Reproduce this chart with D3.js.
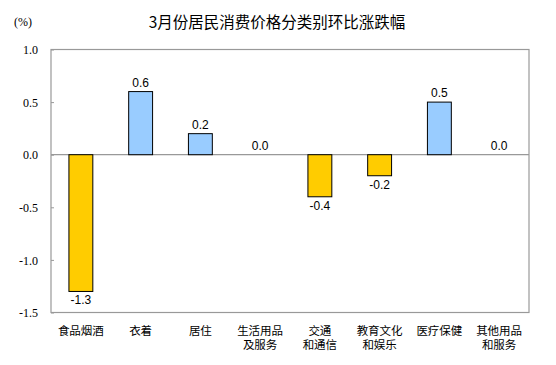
<!DOCTYPE html>
<html><head><meta charset="utf-8">
<script src="https://cdn.jsdelivr.net/npm/d3@7"></script>
<style>body{margin:0;background:#fff;}svg{display:block;}</style>
</head><body>
<script>
const categories = [["食品烟酒"],["衣着"],["居住"],["生活用品","及服务"],["交通","和通信"],["教育文化","和娱乐"],["医疗保健"],["其他用品","和服务"]];
const values = [-1.3, 0.6, 0.2, 0.0, -0.4, -0.2, 0.5, 0.0];
const yTicks = [1.0, 0.5, 0.0, -0.5, -1.0, -1.5];
const title = "3月份居民消费价格分类别环比涨跌幅";

const W = 556, H = 365;
const m = {l: 51, r: 27, t: 49.5, b: 52.5};
const svg = d3.select("body").append("svg").attr("width", W).attr("height", H);
const x = d3.scaleBand().domain(d3.range(categories.length)).range([m.l, W - m.r]).paddingInner(0.6).paddingOuter(0.3);
const y = d3.scaleLinear().domain([-1.5, 1.0]).range([H - m.b, m.t]);

svg.append("text").attr("x", 277).attr("y", 28).attr("text-anchor", "middle")
  .attr("font-family", "Noto Sans CJK SC").attr("font-size", 15.5).attr("fill", "#000").text(title);
svg.append("text").attr("x", 14).attr("y", 26).attr("font-family", "Liberation Serif").attr("font-size", 12).text("(%)");

// axis
const ax = svg.append("g").attr("transform", `translate(${m.l},0)`)
  .call(d3.axisRight(y).tickValues(yTicks).tickSize(3).tickFormat(d3.format(".1f")));
ax.select(".domain").remove();
ax.selectAll("line").attr("stroke", "#999");
ax.selectAll("text").attr("x", -13).attr("text-anchor", "end").attr("font-family", "Liberation Serif").attr("font-size", 12).attr("fill", "#000").attr("dy", "0.35em")
  .text(d => d3.format(".1f")(d).replace("−", "-"));

// zero line
svg.append("line").attr("x1", m.l).attr("x2", W - m.r).attr("y1", y(0)).attr("y2", y(0)).attr("stroke", "#999").attr("stroke-width", 1.2);

// bars
svg.selectAll("rect.bar").data(values).join("rect").attr("class", "bar")
  .attr("x", (d, i) => x(i)).attr("width", x.bandwidth())
  .attr("y", d => y(Math.max(0, d))).attr("height", d => Math.abs(y(d) - y(0)))
  .attr("fill", d => d < 0 ? "#FFCC00" : "#99CCFF").attr("stroke", "#000").attr("stroke-width", 1)
  .attr("display", d => d === 0 ? "none" : null);

// value labels
svg.selectAll("text.val").data(values).join("text").attr("class", "val")
  .attr("x", (d, i) => x(i) + x.bandwidth() / 2)
  .attr("y", d => d < 0 ? y(d) + 13 : y(d) - 5)
  .attr("text-anchor", "middle").attr("font-family", "Liberation Sans").attr("font-size", 12).attr("fill", "#000")
  .text(d => d3.format(".1f")(d).replace("−", "-"));

// border
svg.append("rect").attr("x", m.l).attr("y", m.t).attr("width", W - m.r - m.l).attr("height", H - m.b - m.t)
  .attr("fill", "none").attr("stroke", "#999").attr("stroke-width", 1.2);

// category labels (one text per line)
const lines = [];
categories.forEach((c, i) => c.forEach((s, j) => lines.push({s, i, j})));
svg.selectAll("text.cat").data(lines).join("text").attr("class", "cat")
  .attr("text-anchor", "middle").attr("font-family", "'Liberation Sans', 'Noto Sans CJK SC'").attr("font-size", 11.5).attr("fill", "#000")
  .attr("x", d => x(d.i) + x.bandwidth() / 2).attr("y", d => 335 + d.j * 13.5).text(d => d.s);
</script>
</body></html>
